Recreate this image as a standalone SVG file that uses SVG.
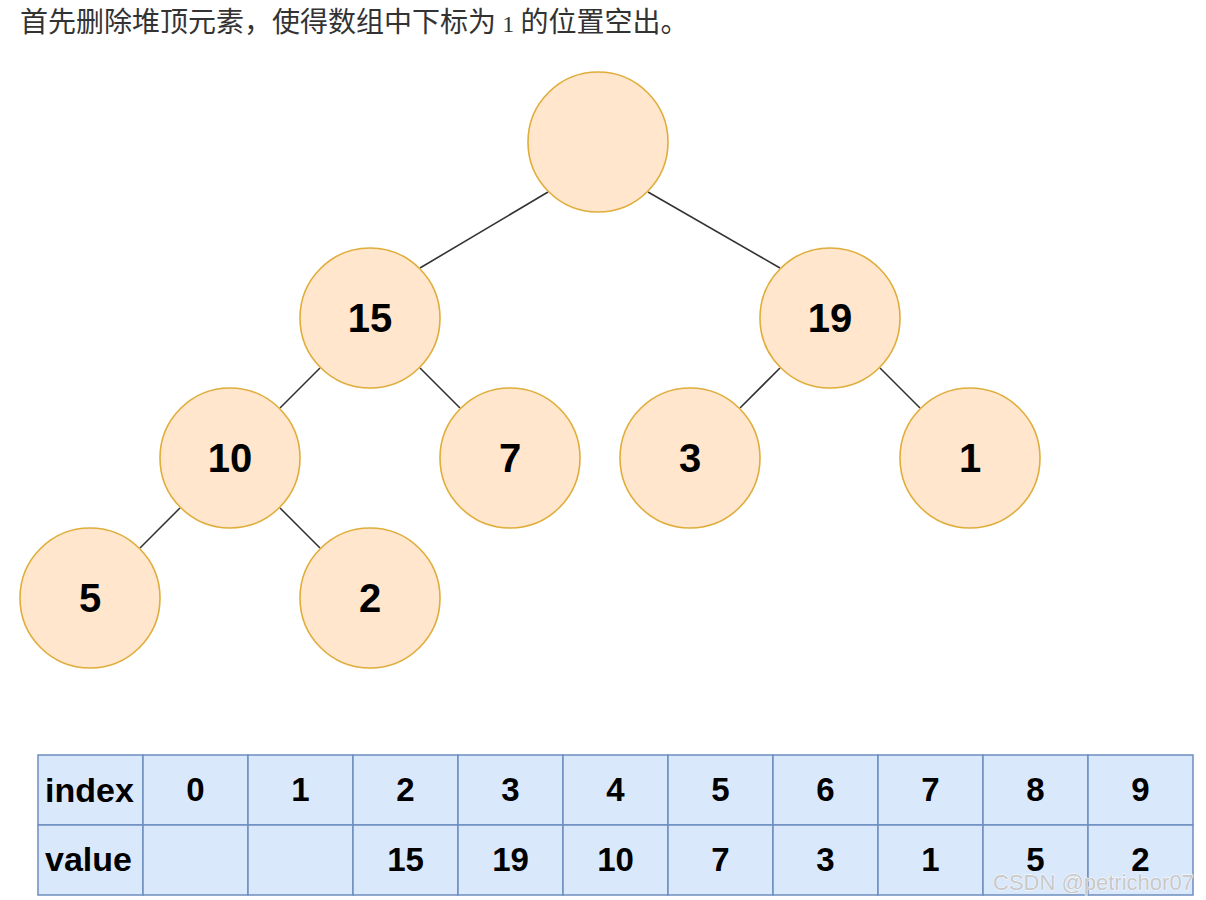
<svg xmlns="http://www.w3.org/2000/svg" width="1206" height="900" viewBox="0 0 1206 900">
<style>
.node circle{fill:#ffe6cc;stroke:#e0ad3a;stroke-width:1.6}
.node text{font-family:"Liberation Sans",Arial,sans-serif;font-weight:bold;font-size:40px;fill:#000;text-anchor:middle}
.edges line{stroke:#333;stroke-width:1.6}
.cell rect{fill:#dae8fc;stroke:#6c8ebf;stroke-width:1.5}
.cell text{font-family:"Liberation Sans",Arial,sans-serif;font-weight:bold;font-size:33px;fill:#000;text-anchor:middle}
</style>
<rect width="1206" height="900" fill="#fff"/>
<text x="20" y="32" font-family="'Noto Sans CJK SC',sans-serif" font-size="28" fill="#333">首先删除堆顶元素，使得数组中下标为 <tspan font-family="'Liberation Serif',serif" font-size="24">1</tspan> 的位置空出。</text>
<g class="edges">
<line x1="548" y1="192" x2="420" y2="268"/>
<line x1="648" y1="192" x2="780" y2="268"/>
<line x1="320" y1="368" x2="280" y2="408"/>
<line x1="420" y1="368" x2="460" y2="408"/>
<line x1="780" y1="368" x2="740" y2="408"/>
<line x1="880" y1="368" x2="920" y2="408"/>
<line x1="180" y1="508" x2="140" y2="548"/>
<line x1="280" y1="508" x2="320" y2="548"/>
</g>
<g id="n-root" class="node"><circle cx="598" cy="142" r="70"/></g>
<g id="n-15" class="node"><circle cx="370" cy="318" r="70"/><text x="370" y="332">15</text></g>
<g id="n-19" class="node"><circle cx="830" cy="318" r="70"/><text x="830" y="332">19</text></g>
<g id="n-10" class="node"><circle cx="230" cy="458" r="70"/><text x="230" y="472">10</text></g>
<g id="n-7" class="node"><circle cx="510" cy="458" r="70"/><text x="510" y="472">7</text></g>
<g id="n-3" class="node"><circle cx="690" cy="458" r="70"/><text x="690" y="472">3</text></g>
<g id="n-1" class="node"><circle cx="970" cy="458" r="70"/><text x="970" y="472">1</text></g>
<g id="n-5" class="node"><circle cx="90" cy="598" r="70"/><text x="90" y="612">5</text></g>
<g id="n-2" class="node"><circle cx="370" cy="598" r="70"/><text x="370" y="612">2</text></g>
<g id="table">
<g class="cell"><rect x="38" y="755" width="105" height="70"/><text x="45" y="802" style="text-anchor:start;font-size:34px">index</text></g>
<g class="cell"><rect x="38" y="825" width="105" height="70"/><text x="45" y="871" style="text-anchor:start;font-size:34px">value</text></g>
<g class="cell"><rect x="143" y="755" width="105" height="70"/><text x="195.5" y="801">0</text></g>
<g class="cell"><rect x="248" y="755" width="105" height="70"/><text x="300.5" y="801">1</text></g>
<g class="cell"><rect x="353" y="755" width="105" height="70"/><text x="405.5" y="801">2</text></g>
<g class="cell"><rect x="458" y="755" width="105" height="70"/><text x="510.5" y="801">3</text></g>
<g class="cell"><rect x="563" y="755" width="105" height="70"/><text x="615.5" y="801">4</text></g>
<g class="cell"><rect x="668" y="755" width="105" height="70"/><text x="720.5" y="801">5</text></g>
<g class="cell"><rect x="773" y="755" width="105" height="70"/><text x="825.5" y="801">6</text></g>
<g class="cell"><rect x="878" y="755" width="105" height="70"/><text x="930.5" y="801">7</text></g>
<g class="cell"><rect x="983" y="755" width="105" height="70"/><text x="1035.5" y="801">8</text></g>
<g class="cell"><rect x="1088" y="755" width="105" height="70"/><text x="1140.5" y="801">9</text></g>
<g class="cell"><rect x="143" y="825" width="105" height="70"/></g>
<g class="cell"><rect x="248" y="825" width="105" height="70"/></g>
<g class="cell"><rect x="353" y="825" width="105" height="70"/><text x="405.5" y="871">15</text></g>
<g class="cell"><rect x="458" y="825" width="105" height="70"/><text x="510.5" y="871">19</text></g>
<g class="cell"><rect x="563" y="825" width="105" height="70"/><text x="615.5" y="871">10</text></g>
<g class="cell"><rect x="668" y="825" width="105" height="70"/><text x="720.5" y="871">7</text></g>
<g class="cell"><rect x="773" y="825" width="105" height="70"/><text x="825.5" y="871">3</text></g>
<g class="cell"><rect x="878" y="825" width="105" height="70"/><text x="930.5" y="871">1</text></g>
<g class="cell"><rect x="983" y="825" width="105" height="70"/><text x="1035.5" y="871">5</text></g>
<g class="cell"><rect x="1088" y="825" width="105" height="70"/><text x="1140.5" y="871">2</text></g>
</g>
<text x="993" y="890" font-family="'Liberation Sans',Arial,sans-serif" font-size="22" fill="#c8c8c8" stroke="#fff" stroke-width="0.8" paint-order="stroke">CSDN @petrichor07</text>
</svg>
